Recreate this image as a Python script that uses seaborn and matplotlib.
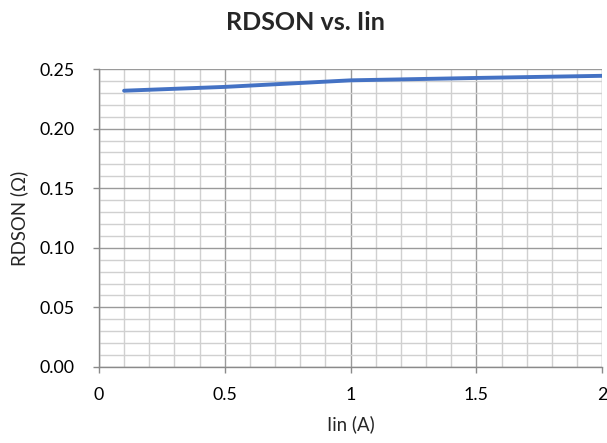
import matplotlib
matplotlib.use("Agg")
import matplotlib.pyplot as plt
from matplotlib.ticker import MultipleLocator, FormatStrFormatter
import seaborn as sns
import pandas as pd

iin = [0.1, 0.5, 1.0, 1.5, 2.0]
rdson = [0.2318, 0.2350, 0.2405, 0.2425, 0.2443]

sns.set_theme(style="white")
plt.rcParams['font.family'] = ['Lato', 'DejaVu Sans']

df = pd.DataFrame({"Iin": iin, "RDSON": rdson})

fig = plt.figure(figsize=(6.07, 4.43), dpi=100)
ax = fig.add_axes([0.163, 0.1716, 0.829, 0.6726])

sns.lineplot(data=df, x="Iin", y="RDSON", ax=ax, color="#4472C4", linewidth=2.8, zorder=5)

ax.set_xlim(0, 2)
ax.set_ylim(0, 0.25)
ax.xaxis.set_major_locator(MultipleLocator(0.5))
ax.xaxis.set_minor_locator(MultipleLocator(0.1))
ax.yaxis.set_major_locator(MultipleLocator(0.05))
ax.yaxis.set_minor_locator(MultipleLocator(0.01))
ax.yaxis.set_major_formatter(FormatStrFormatter('%.2f'))
ax.set_xticks([0, 0.5, 1, 1.5, 2])
ax.set_xticklabels(["0", "0.5", "1", "1.5", "2"])

ax.grid(which="major", color="#9a9a9a", linewidth=1.0, zorder=1)
ax.grid(which="minor", color="#d0d0d0", linewidth=1.0, zorder=0)
ax.set_axisbelow(True)

for s in ["top", "right"]:
    ax.spines[s].set_visible(False)
for s in ["left", "bottom"]:
    ax.spines[s].set_color("#8a8a8a")
    ax.spines[s].set_linewidth(1.0)

ax.tick_params(axis="both", which="major", length=4.5, width=1, color="#8a8a8a",
               labelsize=12.8, labelcolor="black", direction="out", bottom=True, left=True)
ax.tick_params(axis="x", which="major", pad=10)
ax.tick_params(axis="y", which="major", pad=13)
ax.tick_params(axis="both", which="minor", length=0)

ax.set_xlabel("Iin (A)", fontsize=13.4, va="center", ha="center")
ax.xaxis.set_label_coords(0.5, -0.191)
ax.set_ylabel("RDSON (Ω)", fontsize=13.4, va="center", ha="center")
ax.yaxis.set_label_coords(-0.159, 0.5)
fig.text(0.503, 0.949, "RDSON vs. Iin", fontsize=18, fontweight="bold", ha="center", va="center")

fig.savefig("out.png", dpi=100)
